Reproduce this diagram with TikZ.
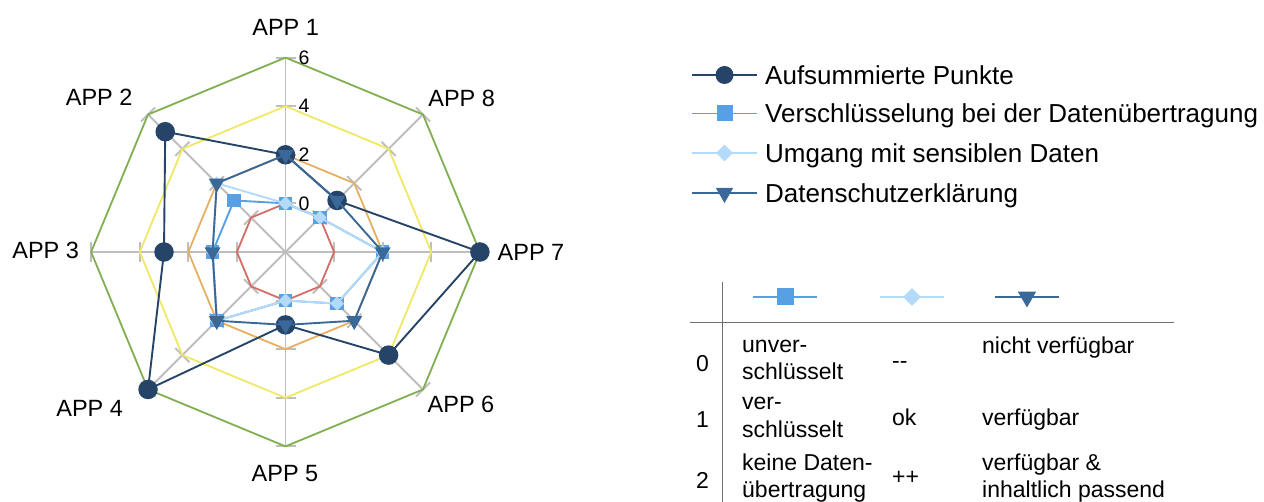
\documentclass[tikz,border=0pt]{standalone}
\usepackage{fontspec}
\setmainfont{Liberation Sans}
\usetikzlibrary{shapes.geometric,calc}
\definecolor{cSum}{RGB}{38,68,104}
\definecolor{cEnc}{RGB}{88,160,228}
\definecolor{cSen}{RGB}{180,218,250}
\definecolor{cPriv}{RGB}{58,104,152}
\definecolor{cRed}{RGB}{212,108,104}
\definecolor{cOrange}{RGB}{230,176,96}
\definecolor{cYellow}{RGB}{240,232,100}
\definecolor{cGreen}{RGB}{128,174,80}
\definecolor{cGrid}{RGB}{190,190,190}
\definecolor{cTab}{RGB}{110,110,110}
\begin{document}
\begin{tikzpicture}[x=1pt,y=-1pt,
  grid/.style={draw=cGrid,line width=1.9pt},
  ring/.style={line width=1.8pt,line join=round},
  ser/.style={line width=1.9pt,line join=round},
  mCirc/.style={circle,fill=cSum,inner sep=0pt,minimum size=19.5pt},
  mSq/.style={rectangle,fill=cEnc,inner sep=0pt,minimum size=13.5pt},
  mDia/.style={diamond,aspect=1,fill=cSen,inner sep=0pt,minimum size=14pt},
  mTri/.style={regular polygon,regular polygon sides=3,shape border rotate=180,fill=cPriv,inner sep=0pt,minimum size=18.5pt},
  lab/.style={font=\fontsize{23.5}{28}\selectfont,inner sep=0pt},
  val/.style={font=\fontsize{19.5}{23}\selectfont,inner sep=0pt,anchor=west},
  leg/.style={font=\fontsize{26}{30}\selectfont,inner sep=0pt,anchor=base west},
  tab/.style={font=\fontsize{23}{27}\selectfont,inner sep=0pt,anchor=base west},
  tline/.style={draw=cTab,line width=1pt}
]
\useasboundingbox (0,0) rectangle (1264,502);
\coordinate (C) at (285.5,252);
% ring coordinates
\foreach \v in {0,2,4,6}{
  \foreach \k in {1,...,8}{
    \pgfmathsetmacro\a{90+45*(\k-1)}
    \pgfmathsetmacro\r{(\v+2)*24.3}
    \coordinate (R\v-\k) at ({285.5+\r*cos(\a)},{252-\r*sin(\a)});
  }
}
% spokes and ticks
\foreach \k in {1,...,8}{\draw[grid] (C) -- (R6-\k);}
\foreach \v in {0,2,4,6}{
  \foreach \k in {1,...,8}{
    \draw[grid] ($(R\v-\k)!10pt!90:(C)$) -- ($(R\v-\k)!10pt!-90:(C)$);
  }
}
% rings
\foreach \v/\c in {0/cRed,2/cOrange,4/cYellow,6/cGreen}{
  \draw[ring,\c] (R\v-1) \foreach \k in {2,...,8}{-- (R\v-\k)} -- cycle;
}
% series coordinates
\foreach \k/\s/\e/\u/\d in {1/2/0/0/2,2/5/1/2/2,3/3/1/1/1,4/6/2/2/2,5/1/0/0/1,6/4/1/1/2,7/6/2/2/2,8/1/0/0/1}{
  \pgfmathsetmacro\a{90+45*(\k-1)}
  \coordinate (S-\k) at ({285.5+(\s+2)*24.3*cos(\a)},{252-(\s+2)*24.3*sin(\a)});
  \coordinate (E-\k) at ({285.5+(\e+2)*24.3*cos(\a)},{252-(\e+2)*24.3*sin(\a)});
  \coordinate (U-\k) at ({285.5+(\u+2)*24.3*cos(\a)},{252-(\u+2)*24.3*sin(\a)});
  \coordinate (D-\k) at ({285.5+(\d+2)*24.3*cos(\a)},{252-(\d+2)*24.3*sin(\a)});
}
% series: sum
\draw[ser,cSum] (S-1) \foreach \k in {2,...,8}{-- (S-\k)} -- cycle;
\foreach \k in {1,...,8}{\node[mCirc] (mS\k) at (S-\k) {};}
% encryption
\draw[ser,cEnc] (E-1) \foreach \k in {2,...,8}{-- (E-\k)} -- cycle;
\foreach \k in {1,...,8}{\node[mSq] (mE\k) at (E-\k) {};}
% sensitive data
\draw[ser,cSen] (U-1) \foreach \k in {2,...,8}{-- (U-\k)} -- cycle;
\foreach \k in {1,...,8}{\node[mDia] (mU\k) at (U-\k) {};}
% privacy statement
\draw[ser,cPriv] (D-1) \foreach \k in {2,...,8}{-- (D-\k)} -- cycle;
\foreach \k in {1,...,8}{\node[mTri] (mD\k) at (D-\k) {};}
% axis value labels
\node[val] (v0) at (298.5,203.4) {0};
\node[val] (v2) at (298.5,154.8) {2};
\node[val] (v4) at (298.5,106.2) {4};
\node[val] (v6) at (298.5,57.6) {6};
% category labels
\node[lab] (a1) at (285.7,27.3) {APP 1};
\node[lab] (a2) at (99.2,97) {APP 2};
\node[lab] (a3) at (45.7,250.5) {APP 3};
\node[lab] (a4) at (89.7,408) {APP 4};
\node[lab] (a5) at (285,473.7) {APP 5};
\node[lab] (a6) at (461,404) {APP 6};
\node[lab] (a7) at (531,252) {APP 7};
\node[lab] (a8) at (461.7,98) {APP 8};
% legend
\coordinate (L1a) at (692,75);    \coordinate (L1b) at (757,75);
\coordinate (L2a) at (692,113.5); \coordinate (L2b) at (757,113.5);
\coordinate (L3a) at (692,153);   \coordinate (L3b) at (757,153);
\coordinate (L4a) at (692,193);   \coordinate (L4b) at (757,193);
\draw[ser,cSum] (L1a) -- (L1b);
\node[mCirc,minimum size=18pt] (L1m) at ($(L1a)!0.5!(L1b)$) {};
\draw[ser,cEnc] (L2a) -- (L2b);
\node[mSq,minimum size=16pt] (L2m) at ($(L2a)!0.5!(L2b)$) {};
\draw[ser,cSen] (L3a) -- (L3b);
\node[mDia,minimum size=17pt] (L3m) at ($(L3a)!0.5!(L3b)$) {};
\draw[ser,cPriv] (L4a) -- (L4b);
\node[mTri,minimum size=20pt] (L4m) at ($(L4a)!0.5!(L4b)$) {};
\node[leg] (L1t) at (765,84.3) {Aufsummierte Punkte};
\node[leg] (L2t) at (765,122.8) {Verschlüsselung bei der Datenübertragung};
\node[leg] (L3t) at (765,162.3) {Umgang mit sensiblen Daten};
\node[leg] (L4t) at (765,202.3) {Datenschutzerklärung};
% table
\coordinate (Tv1) at (722,282); \coordinate (Tv2) at (722,502);
\coordinate (Th1) at (690,322.5); \coordinate (Th2) at (1174,322.5);
\draw[tline] (Tv1) -- (Tv2);
\draw[tline] (Th1) -- (Th2);
\coordinate (H1a) at (753,297); \coordinate (H1b) at (817,297);
\coordinate (H2a) at (880,297); \coordinate (H2b) at (944,297);
\coordinate (H3a) at (995,297); \coordinate (H3b) at (1059,297);
\draw[ser,cEnc] (H1a) -- (H1b);
\node[mSq,minimum size=17pt] (H1m) at ($(H1a)!0.5!(H1b)$) {};
\draw[ser,cSen] (H2a) -- (H2b);
\node[mDia,minimum size=18pt] (H2m) at ($(H2a)!0.5!(H2b)$) {};
\draw[ser,cPriv] (H3a) -- (H3b);
\node[mTri,minimum size=21pt] (H3m) at ($(H3a)!0.5!(H3b)$) {};
\node[tab] (r0) at (696,371.5) {0};
\node[tab] (r1) at (696,428) {1};
\node[tab] (r2) at (696,488) {2};
\node[tab] (c01) at (742,353) {unver-};
\node[tab] (c02) at (742,380) {schlüsselt};
\node[tab] (c11) at (742,409.5) {ver-};
\node[tab] (c12) at (742,438) {schlüsselt};
\node[tab] (c21) at (742,471) {keine Daten-};
\node[tab] (c22) at (742,497) {übertragung};
\node[tab] (d0) at (892,369) {{-}{-}};
\node[tab] (d1) at (892,426) {ok};
\node[tab] (d2) at (892,484) {++};
\node[tab] (e0) at (982,354) {nicht verfügbar};
\node[tab] (e1) at (982,426) {verfügbar};
\node[tab] (e21) at (982,470) {verfügbar \&};
\node[tab] (e22) at (982,497) {inhaltlich passend};
\end{tikzpicture}
\end{document}
